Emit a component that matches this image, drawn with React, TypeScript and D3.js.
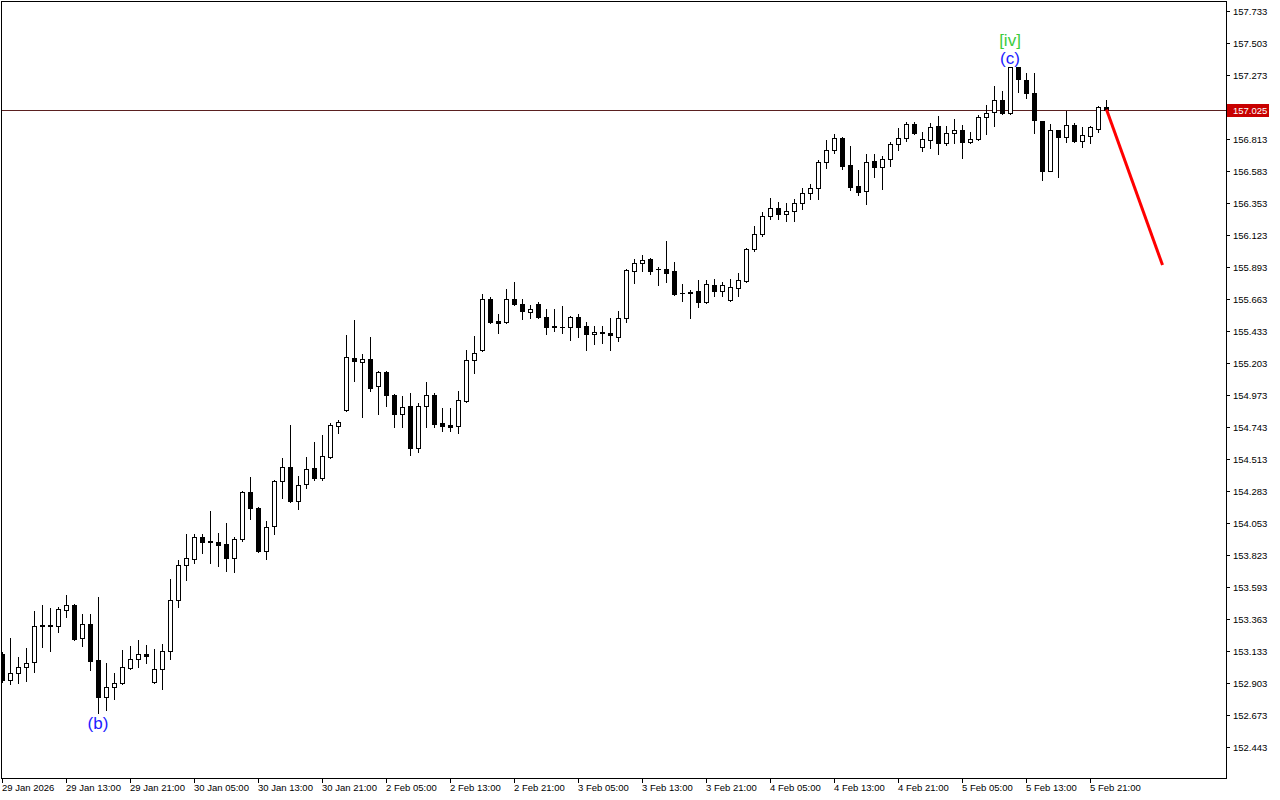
import React from 'react';
import * as d3 from 'd3';

const timeLabels = [
  '29 Jan 2026', '29 Jan 13:00', '29 Jan 21:00', '30 Jan 05:00', '30 Jan 13:00', '30 Jan 21:00',
  '2 Feb 05:00', '2 Feb 13:00', '2 Feb 21:00', '3 Feb 05:00', '3 Feb 13:00', '3 Feb 21:00',
  '4 Feb 05:00', '4 Feb 13:00', '4 Feb 21:00', '5 Feb 05:00', '5 Feb 13:00', '5 Feb 21:00',
];

const priceTicks = [
  '152.443', '152.673', '152.903', '153.133', '153.363', '153.593', '153.823', '154.053',
  '154.283', '154.513', '154.743', '154.973', '155.203', '155.433', '155.663', '155.893',
  '156.123', '156.353', '156.583', '156.813', '157.043', '157.273', '157.503', '157.733',
];

const opens = [
  153.111, 152.925, 152.975, 153.018, 153.054, 153.320, 153.320, 153.313, 153.428, 153.464,
  153.226, 153.327, 153.068, 152.802, 152.874, 152.903, 153.011, 153.075, 153.111, 152.910,
  153.004, 153.133, 153.500, 153.751, 153.794, 153.952, 153.924, 153.916, 153.902, 153.801,
  153.938, 154.276, 154.161, 153.852, 154.031, 154.355, 154.455, 154.211, 154.333, 154.448,
  154.376, 154.527, 154.750, 154.865, 155.239, 155.210, 155.232, 155.038, 155.138, 154.973,
  154.836, 154.894, 154.592, 154.894, 154.973, 154.772, 154.757, 154.750, 154.930, 155.225,
  155.296, 155.663, 155.505, 155.498, 155.663, 155.627, 155.570, 155.627, 155.534, 155.469,
  155.462, 155.462, 155.534, 155.469, 155.411, 155.426, 155.419, 155.390, 155.526, 155.864,
  155.922, 155.950, 155.879, 155.879, 155.864, 155.706, 155.713, 155.720, 155.641, 155.764,
  155.720, 155.656, 155.742, 155.792, 156.022, 156.130, 156.260, 156.317, 156.274, 156.295,
  156.353, 156.425, 156.461, 156.648, 156.734, 156.820, 156.626, 156.475, 156.439, 156.655,
  156.612, 156.669, 156.777, 156.820, 156.921, 156.755, 156.806, 156.906, 156.784, 156.856,
  156.878, 156.791, 156.813, 156.971, 157.007, 157.093, 157.000, 157.330, 157.237, 157.144,
  156.942, 156.583, 156.878, 156.827, 156.914, 156.799, 156.834, 156.885, 157.043,
];

const highs = [
  153.126, 153.226, 153.090, 153.154, 153.420, 153.464, 153.442, 153.449, 153.535, 153.471,
  153.399, 153.399, 153.521, 153.047, 152.975, 153.140, 153.169, 153.212, 153.176, 153.147,
  153.183, 153.650, 153.787, 153.974, 153.974, 153.974, 154.139, 153.981, 154.053, 153.952,
  154.283, 154.384, 154.168, 154.067, 154.362, 154.520, 154.757, 154.391, 154.527, 154.635,
  154.685, 154.772, 154.793, 155.404, 155.512, 155.268, 155.390, 155.145, 155.145, 154.980,
  154.966, 154.987, 154.915, 155.066, 154.987, 154.880, 154.880, 155.002, 155.296, 155.397,
  155.699, 155.677, 155.555, 155.735, 155.785, 155.663, 155.620, 155.641, 155.591, 155.591,
  155.613, 155.541, 155.555, 155.498, 155.469, 155.469, 155.526, 155.577, 155.879, 155.950,
  155.979, 155.958, 155.893, 156.080, 155.929, 155.771, 155.728, 155.800, 155.800, 155.807,
  155.785, 155.807, 155.850, 156.030, 156.188, 156.288, 156.389, 156.360, 156.353, 156.382,
  156.461, 156.490, 156.662, 156.806, 156.849, 156.827, 156.763, 156.590, 156.705, 156.705,
  156.691, 156.791, 156.892, 156.935, 156.935, 156.863, 156.928, 156.978, 156.906, 156.957,
  156.914, 156.863, 156.985, 157.057, 157.194, 157.158, 157.333, 157.333, 157.287, 157.287,
  156.945, 156.921, 156.880, 157.014, 156.928, 156.899, 156.906, 157.050, 157.093,
];

const lows = [
  152.910, 152.896, 152.903, 152.917, 152.982, 153.162, 153.133, 153.270, 153.377, 153.212,
  153.169, 152.996, 152.687, 152.709, 152.788, 152.896, 153.004, 153.018, 153.047, 152.903,
  152.860, 153.075, 153.449, 153.643, 153.765, 153.837, 153.765, 153.744, 153.708, 153.701,
  153.924, 154.082, 153.845, 153.794, 153.974, 154.233, 154.204, 154.154, 154.305, 154.362,
  154.362, 154.520, 154.700, 154.858, 155.074, 154.815, 155.002, 154.836, 154.894, 154.743,
  154.743, 154.542, 154.563, 154.743, 154.743, 154.714, 154.714, 154.700, 154.923, 155.131,
  155.289, 155.490, 155.419, 155.490, 155.620, 155.519, 155.526, 155.526, 155.411, 155.433,
  155.419, 155.368, 155.390, 155.296, 155.340, 155.347, 155.296, 155.361, 155.498, 155.778,
  155.864, 155.843, 155.764, 155.785, 155.692, 155.649, 155.526, 155.605, 155.634, 155.684,
  155.684, 155.649, 155.684, 155.785, 156.008, 156.116, 156.238, 156.238, 156.224, 156.224,
  156.310, 156.382, 156.382, 156.604, 156.712, 156.597, 156.446, 156.410, 156.346, 156.540,
  156.454, 156.619, 156.734, 156.799, 156.849, 156.727, 156.748, 156.705, 156.770, 156.784,
  156.676, 156.784, 156.806, 156.849, 156.906, 156.993, 156.993, 157.151, 157.108, 156.856,
  156.518, 156.580, 156.540, 156.791, 156.791, 156.755, 156.784, 156.863, 157.021,
];

const closes = [
  152.925, 152.975, 153.018, 153.047, 153.313, 153.313, 153.313, 153.435, 153.464, 153.219,
  153.327, 153.061, 152.802, 152.874, 152.903, 153.018, 153.075, 153.111, 153.097, 153.004,
  153.133, 153.500, 153.751, 153.801, 153.952, 153.916, 153.916, 153.895, 153.801, 153.938,
  154.276, 154.161, 153.852, 154.024, 154.355, 154.455, 154.211, 154.326, 154.441, 154.376,
  154.534, 154.757, 154.779, 155.246, 155.217, 155.232, 155.023, 155.138, 154.973, 154.836,
  154.887, 154.592, 154.894, 154.973, 154.764, 154.750, 154.743, 154.937, 155.225, 155.275,
  155.663, 155.498, 155.490, 155.663, 155.627, 155.577, 155.591, 155.534, 155.462, 155.462,
  155.462, 155.534, 155.462, 155.411, 155.426, 155.419, 155.404, 155.526, 155.871, 155.922,
  155.943, 155.864, 155.876, 155.850, 155.699, 155.703, 155.703, 155.641, 155.771, 155.720,
  155.764, 155.749, 155.800, 156.022, 156.130, 156.260, 156.317, 156.274, 156.295, 156.353,
  156.425, 156.461, 156.648, 156.734, 156.820, 156.619, 156.468, 156.432, 156.648, 156.612,
  156.669, 156.777, 156.820, 156.921, 156.856, 156.813, 156.899, 156.784, 156.856, 156.878,
  156.791, 156.813, 156.971, 157.000, 157.093, 157.000, 157.330, 157.244, 157.144, 156.950,
  156.583, 156.878, 156.827, 156.914, 156.799, 156.842, 156.899, 157.043, 157.025,
];

const currentPrice = 157.025;
// projection line: bar index and price of each end
const projectionIndex = [138, 145];
const projectionPrice = [157.025, 155.907];

// wave labels
const waveText = ['(b)', '(c)', '[iv]'];
const waveBar = [12, 126, 126];
const waveColor = ['#1c1cff', '#1c1cff', '#3ccc3c'];

const W = 1280;
const H = 800;
const plotRight = 1226;
const plotBottom = 778;
const FONT = '"Liberation Sans", Arial, sans-serif';

export default function App() {
  const n = opens.length;
  const x = d3.scaleLinear().domain([0, 1]).range([2.5, 10.5]);
  const y = d3.scaleLinear().domain([152.443, 157.733]).range([747, 11]);
  const ry = (v: number) => Math.round(y(v));

  const bars = d3.range(n).map((i) => {
    const cx = x(i);
    const o = opens[i], c = closes[i];
    const top = ry(Math.max(o, c));
    const bot = ry(Math.min(o, c));
    const bull = c > o;
    return (
      <g key={i}>
        <line x1={cx} x2={cx} y1={ry(highs[i])} y2={ry(lows[i]) + 1} stroke="#000" strokeWidth={1} />
        {bot - top <= 0 ? (
          <line x1={cx - 2.5} x2={cx + 2.5} y1={top + 0.5} y2={top + 0.5} stroke="#000" strokeWidth={1} />
        ) : (
          <rect x={cx - 2} y={top + 0.5} width={4} height={bot - top} fill={bull ? '#fff' : '#000'} stroke="#000" strokeWidth={1} />
        )}
      </g>
    );
  });

  const timeTicks = timeLabels.map((t, k) => {
    const cx = x(k * 8);
    return (
      <g key={t}>
        <line x1={cx} x2={cx} y1={plotBottom + 1} y2={plotBottom + 5} stroke="#000" />
        <text x={cx - 0.5} y={791} fontSize={9.5} fontFamily={FONT} fill="#000">{t}</text>
      </g>
    );
  });

  const cpY = ry(currentPrice) + 0.5;

  const pTicks = priceTicks.map((p) => {
    const yy = ry(+p) + 0.5;
    const hidden = Math.abs(yy - cpY) < 12;
    return (
      <g key={p}>
        <line x1={plotRight} x2={plotRight + 4} y1={yy} y2={yy} stroke="#000" />
        {hidden ? null : (
          <text x={plotRight + 7} y={yy + 3.5} fontSize={9.5} fontFamily={FONT} fill="#000">{p}</text>
        )}
      </g>
    );
  });

  const projLine = d3.line<number>()
    .x((_, k) => x(projectionIndex[k]))
    .y((_, k) => y(projectionPrice[k]));

  const waves = waveText.map((t, k) => {
    const i = waveBar[k];
    let yy;
    if (k === 0) yy = y(lows[i]) + 16;
    else if (k === 1) yy = y(highs[i]) - 3;
    else yy = y(highs[i]) - 21;
    return (
      <text key={t} x={x(i) - 0.5} y={yy} textAnchor="middle" fontSize={17} fontFamily={FONT} fill={waveColor[k]}>{t}</text>
    );
  });

  return (
    <svg width={W} height={H} style={{ position: 'fixed', left: 0, top: 0, background: '#fff' }}>
      <defs>
        <clipPath id="plot">
          <rect x={1} y={1} width={plotRight - 1} height={plotBottom - 1} />
        </clipPath>
      </defs>
      <rect x={0} y={0} width={W} height={H} fill="#fff" />
      <g clipPath="url(#plot)" shapeRendering="crispEdges">
        <line x1={0} x2={plotRight} y1={cpY} y2={cpY} stroke="#5a2020" strokeWidth={1} />
        {bars}
      </g>
      <g clipPath="url(#plot)">
        <path d={projLine(projectionPrice) || ''} stroke="#ff0000" strokeWidth={3} fill="none" />
        {waves}
      </g>
      <g shapeRendering="crispEdges">
        <line x1={1.5} x2={1.5} y1={1} y2={plotBottom + 1} stroke="#000" />
        <line x1={1} x2={plotRight + 1} y1={1.5} y2={1.5} stroke="#000" />
        <line x1={plotRight + 0.5} x2={plotRight + 0.5} y1={1} y2={plotBottom + 1} stroke="#000" />
        <line x1={1} x2={plotRight + 1} y1={plotBottom + 0.5} y2={plotBottom + 0.5} stroke="#000" />
        {timeTicks}
        {pTicks}
        <rect x={plotRight + 1} y={cpY - 7} width={42} height={13} fill="#c80000" />
      </g>
      <text x={plotRight + 7} y={cpY + 3.5} fontSize={9.5} fontFamily={FONT} fill="#fff">{currentPrice.toFixed(3)}</text>
    </svg>
  );
}
